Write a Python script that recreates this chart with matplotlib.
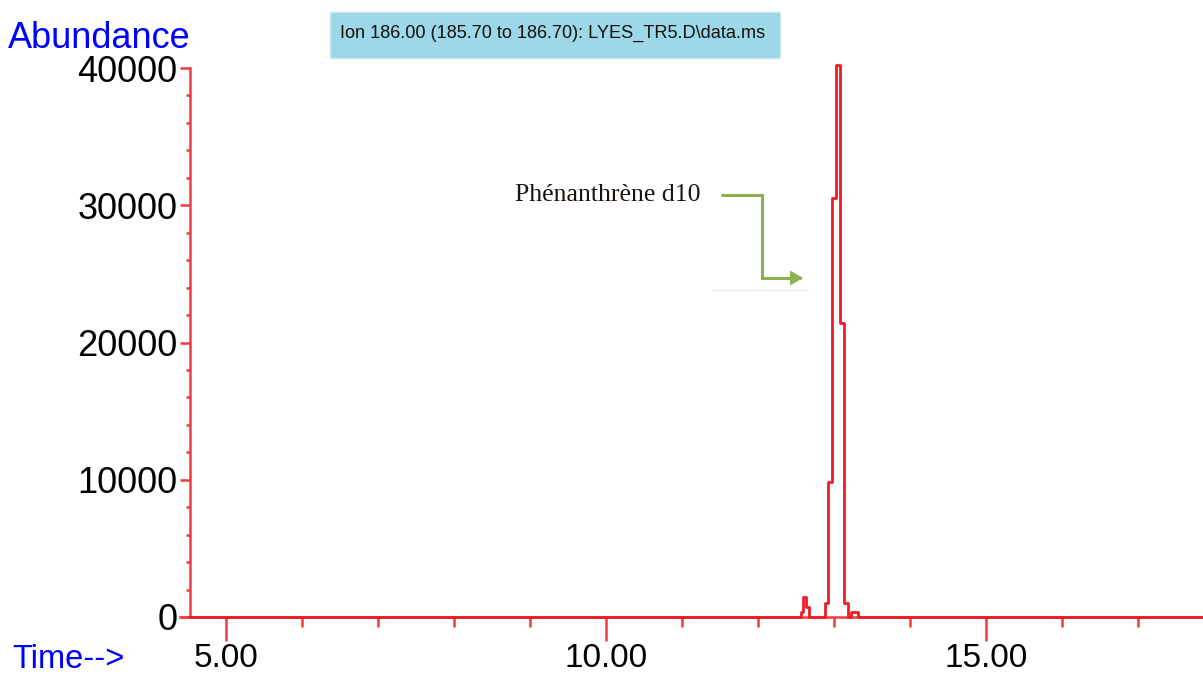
import matplotlib
matplotlib.use("Agg")
import matplotlib.pyplot as plt
from matplotlib.patches import FancyArrowPatch, Rectangle
from matplotlib.path import Path
from matplotlib.ticker import MultipleLocator, FuncFormatter

# ---- data ----
time_min = [4.53, 12.55, 12.58, 12.61, 12.65, 12.69, 12.86, 12.90, 12.95,
            13.00, 13.06, 13.11, 13.16, 13.20, 13.25, 13.29, 13.33, 17.86]
abundance = [0, 0, 400, 1450, 700, 0, 0, 1000, 9800,
             30500, 40200, 21400, 1000, 0, 350, 350, 0, 0]
y_ticks = [0, 10000, 20000, 30000, 40000]
x_ticks = [5, 10, 15]
title_text = "Ion 186.00 (185.70 to 186.70): LYES_TR5.D\\data.ms"
peak_label = "Phénanthrène d10"

W, H = 1203, 675
fig = plt.figure(figsize=(W / 100, H / 100), dpi=100)
fig.patch.set_facecolor("white")

def fx(px):
    return px / W

def fy(py):
    return 1 - py / H

ax = fig.add_axes([fx(180), fy(617), fx(1203) - fx(180), fy(68) - fy(617)])
red = "#ee1c25"
axis_red = "#f03a44"

ax.plot(time_min, abundance, drawstyle="steps-mid", color=red, lw=2.0, clip_on=False, zorder=3)

ax.set_xlim(4.395, 17.855)
ax.set_ylim(0, 40000)

for s in ["top", "right"]:
    ax.spines[s].set_visible(False)
ax.spines["left"].set_position(("data", 4.526))
ax.spines["left"].set_color(axis_red)
ax.spines["bottom"].set_color(axis_red)
ax.spines["left"].set_linewidth(1.8)
ax.spines["bottom"].set_linewidth(1.8)

ax.xaxis.set_major_locator(plt.FixedLocator(x_ticks))
ax.xaxis.set_minor_locator(MultipleLocator(1))
ax.xaxis.set_major_formatter(FuncFormatter(lambda v, p: f"{v:.2f}"))
ax.yaxis.set_major_locator(plt.FixedLocator(y_ticks))
ax.yaxis.set_minor_locator(MultipleLocator(2000))
ax.yaxis.set_major_formatter(FuncFormatter(lambda v, p: f"{int(v)}"))

font = "Liberation Sans"
ax.tick_params(axis="x", which="major", direction="out", length=17, width=1.8,
               color=axis_red, labelsize=24, pad=2, labelcolor="black")
ax.tick_params(axis="x", which="minor", direction="out", length=7, width=1.8, color=axis_red)
ax.tick_params(axis="y", which="major", direction="out", length=7, width=1.8,
               color=axis_red, labelsize=26, pad=2, labelcolor="black")
ax.tick_params(axis="y", which="minor", direction="out", length=3, width=1.8, color=axis_red)
for lab in ax.get_xticklabels() + ax.get_yticklabels():
    lab.set_family(font)

# axis captions
fig.text(fx(8), fy(38), "Abundance", color="#0000ff", fontsize=26, family=font,
         ha="left", va="center")
fig.text(fx(12), fy(659), "Time-->", color="#0000ff", fontsize=23.5, family=font,
         ha="left", va="center")

# title box
fig.patches.append(Rectangle((fx(330), fy(58)), fx(780) - fx(330), fy(12) - fy(58),
                             transform=fig.transFigure, facecolor="#9dd7e8",
                             edgecolor="#c8e8f0", lw=1, zorder=0))
fig.text(fx(340), fy(33), title_text, fontsize=13.1, family=font, color="#111111",
         ha="left", va="center")

# annotation
ax.text(8.80, 30750, peak_label, family="Liberation Serif", fontsize=18.5,
        color="#1a1410", ha="left", va="center")
arrow_path = Path([(11.526, 30750), (12.053, 30750), (12.053, 24700), (12.592, 24700)],
                  [Path.MOVETO, Path.LINETO, Path.LINETO, Path.LINETO])
arr = FancyArrowPatch(path=arrow_path, arrowstyle="-|>,head_length=6,head_width=3.5",
                      color="#8db050", lw=2.2, transform=ax.transData, clip_on=False,
                      joinstyle="miter")
ax.add_patch(arr)
ax.plot([11.39, 12.66], [23800, 23800], color="#ececec", lw=0.8, clip_on=False)

fig.savefig("out.png", dpi=100, facecolor="white")
